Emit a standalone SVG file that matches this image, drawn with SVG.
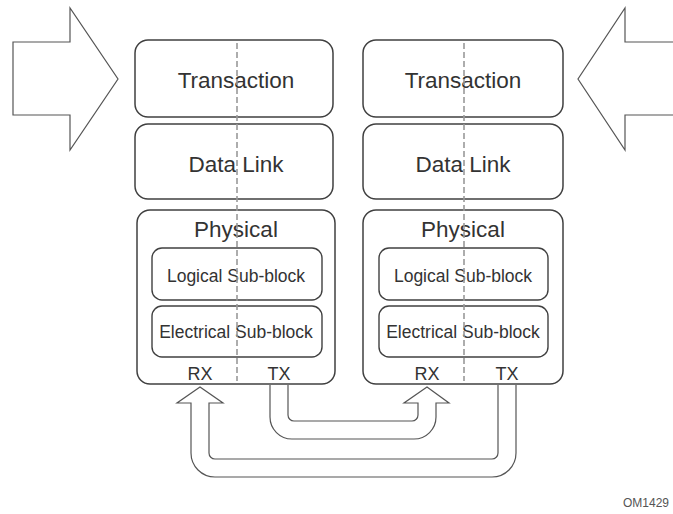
<svg xmlns="http://www.w3.org/2000/svg" width="673" height="514" viewBox="0 0 673 514">
<style>
.box{fill:#fff;stroke:#404040;stroke-width:1.5}
.sub{fill:#fff;stroke:#404040;stroke-width:1.4}
.arr{fill:#fff;stroke:#555;stroke-width:1.2;stroke-linejoin:miter}
.dash{stroke:#999;stroke-width:1.6;stroke-dasharray:6 3;fill:none}
text{font-family:"Liberation Sans",Arial,sans-serif;fill:#333;text-anchor:middle}
.big{font-size:22.5px}
.mid{font-size:17.5px}
.sm{font-size:18px}
</style>
<rect width="673" height="514" fill="#fff"/>
<g id="arrow-left-in"><polygon class="arr" points="13,42 70,42 70,8 118,79 70,150 70,115 13,115"/></g>
<g id="arrow-right-in"><polygon class="arr" points="675,42 625,42 625,8 578,79 625,150 625,115 675,115"/></g>
<g id="left-transaction"><rect class="box" x="135" y="40" width="198" height="77" rx="13"/><text class="big" x="236" y="88">Transaction</text></g>
<g id="left-datalink"><rect class="box" x="135" y="124" width="198" height="75" rx="13"/><text class="big" x="236" y="172">Data Link</text></g>
<g id="left-physical"><rect class="box" x="137" y="210" width="198" height="174" rx="13"/><text class="big" x="236" y="237">Physical</text>
<text class="sm" x="200" y="380">RX</text><text class="sm" x="279" y="380">TX</text></g>
<g id="left-logical"><rect class="sub" x="152" y="248" width="170" height="52" rx="10"/><text class="mid" x="236" y="282">Logical Sub-block</text></g>
<g id="left-electrical"><rect class="sub" x="152" y="306" width="170" height="51" rx="10"/><text class="mid" x="236" y="338">Electrical Sub-block</text></g>
<g id="right-transaction"><rect class="box" x="363" y="40" width="200" height="77" rx="13"/><text class="big" x="463" y="88">Transaction</text></g>
<g id="right-datalink"><rect class="box" x="363" y="124" width="200" height="75" rx="13"/><text class="big" x="463" y="172">Data Link</text></g>
<g id="right-physical"><rect class="box" x="363" y="210" width="200" height="174" rx="13"/><text class="big" x="463" y="237">Physical</text>
<text class="sm" x="427" y="380">RX</text><text class="sm" x="507" y="380">TX</text></g>
<g id="right-logical"><rect class="sub" x="379" y="248" width="169" height="52" rx="10"/><text class="mid" x="463" y="282">Logical Sub-block</text></g>
<g id="right-electrical"><rect class="sub" x="379" y="306" width="169" height="51" rx="10"/><text class="mid" x="463" y="338">Electrical Sub-block</text></g>
<g id="connectors">
<line class="dash" x1="237" y1="43" x2="237" y2="381"/>
<line class="dash" x1="464" y1="43" x2="464" y2="381"/>
<path class="arr" d="M270,385 V417 A22,22 0 0 0 292,439 H414 A22,22 0 0 0 436,417 V403 H449 L427,387 L404,403 H418 V415 A6,6 0 0 1 412,421 H294 A6,6 0 0 1 288,415 V385"/>
<path class="arr" d="M516,385 V453 A24,24 0 0 1 492,477 H215 A24,24 0 0 1 191,453 V403 H177 L200,387 L223,403 H209 V453 A6,6 0 0 0 215,459 H492 A6,6 0 0 0 498,453 V385"/>
</g>
<text x="646" y="507" style="font-size:12px;fill:#555">OM1429</text>
</svg>
